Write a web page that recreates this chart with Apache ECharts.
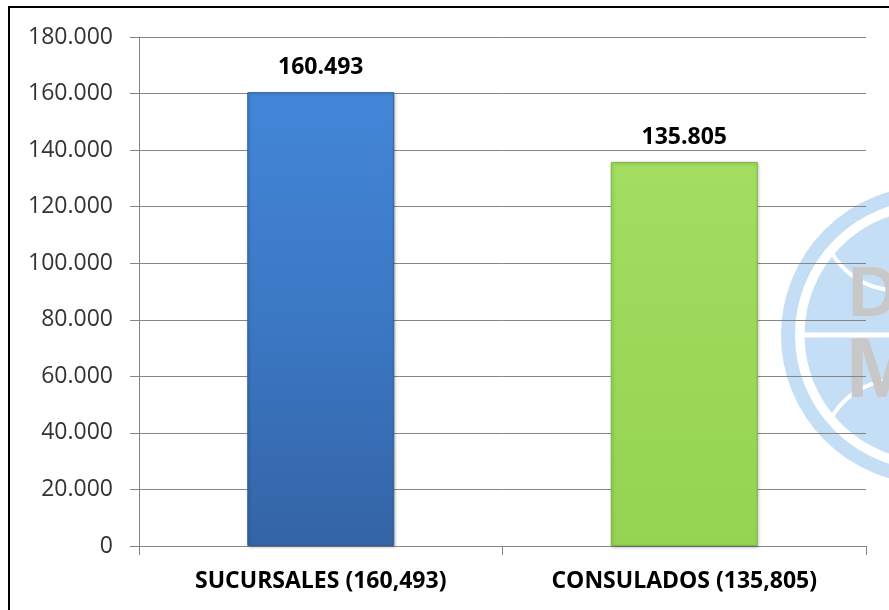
<!DOCTYPE html>
<html>
<head>
<meta charset="utf-8">
<script src="https://cdn.jsdelivr.net/npm/echarts@6/dist/echarts.min.js"></script>
<style>
html,body{margin:0;padding:0;background:#fff;}
#c{width:889px;height:610px;}
</style>
</head>
<body>
<div id="c"></div>
<script>
const categories = ['SUCURSALES (160,493)', 'CONSULADOS (135,805)'];
const values = [160493, 135805];
const yTicks = [0, 20000, 40000, 60000, 80000, 100000, 120000, 140000, 160000, 180000];

function fmt(v) {
  return String(v).replace(/\B(?=(\d{3})+(?!\d))/g, '.');
}

const barColors = [
  new echarts.graphic.LinearGradient(0, 0, 0, 1, [
    {offset: 0, color: '#4386d8'},
    {offset: 0.5, color: '#3b78c4'},
    {offset: 1, color: '#3464a6'}
  ]),
  new echarts.graphic.LinearGradient(0, 0, 0, 1, [
    {offset: 0, color: '#a2de60'},
    {offset: 1, color: '#95d352'}
  ])
];
const barBorders = ['#2f5d9c', '#7fb845'];

const chart = echarts.init(document.getElementById('c'), null, {renderer: 'canvas'});
chart.setOption({
  backgroundColor: '#ffffff',
  animation: false,
  graphic: [
    {
      type: 'group', z: -10, silent: true,
      children: [
        {type: 'circle', shape: {cx: 930, cy: 335, r: 142}, style: {fill: 'none', stroke: '#c4def6', lineWidth: 14}},
        {type: 'circle', shape: {cx: 930, cy: 335, r: 127}, style: {fill: '#c4def6', stroke: '#ffffff', lineWidth: 3}},
        {type: 'line', shape: {x1: 800, y1: 335, x2: 889, y2: 335}, style: {stroke: '#ffffff', lineWidth: 5}},
        {type: 'bezierCurve', shape: {x1: 830, y1: 250, x2: 889, y2: 290, cpx1: 850, cpy1: 285}, style: {stroke: '#ffffff', lineWidth: 4, fill: 'none'}},
        {type: 'bezierCurve', shape: {x1: 830, y1: 420, x2: 889, y2: 380, cpx1: 850, cpy1: 385}, style: {stroke: '#ffffff', lineWidth: 4, fill: 'none'}},
        {type: 'text', left: 848, top: 262, style: {text: 'D', fill: '#c8c8c8', font: 'bold 70px "Liberation Sans"'}},
        {type: 'text', left: 846, top: 330, style: {text: 'M', fill: '#c8c8c8', font: 'bold 86px "Liberation Sans"'}}
      ]
    },
    {
      type: 'rect', z: 100, silent: true,
      shape: {x: 9, y: 7, width: 900, height: 620},
      style: {fill: 'none', stroke: '#000000', lineWidth: 2}
    }
  ],
  grid: {left: 139, right: 23, top: 37, bottom: 64, containLabel: false},
  xAxis: {
    type: 'category',
    data: categories,
    axisLine: {lineStyle: {color: '#868686', width: 1}},
    axisTick: {show: true, length: 9, lineStyle: {color: '#868686'}},
    axisLabel: {
      margin: 24,
      color: '#000000',
      fontFamily: '"Open Sans"',
      fontWeight: 'bold',
      fontSize: 23
    },
    splitLine: {show: false}
  },
  yAxis: {
    type: 'value',
    min: 0, max: 180000, interval: 20000,
    axisLine: {show: true, lineStyle: {color: '#868686', width: 1}},
    axisTick: {show: true, length: 9, lineStyle: {color: '#868686'}},
    axisLabel: {
      margin: 26,
      color: '#333333',
      fontFamily: '"Open Sans"',
      fontSize: 23,
      formatter: function (v) { return yTicks.indexOf(v) >= 0 ? fmt(v) : ''; }
    },
    splitLine: {show: true, lineStyle: {color: '#868686', width: 1}}
  },
  series: [{
    type: 'bar',
    barWidth: 147,
    data: values.map(function (v, i) {
      return {value: v, itemStyle: {color: barColors[i], borderColor: barBorders[i], borderWidth: 1}};
    }),
    itemStyle: {shadowColor: 'rgba(0,0,0,0.25)', shadowBlur: 3, shadowOffsetX: 1, shadowOffsetY: 1},
    label: {
      show: true,
      position: 'top',
      distance: 13,
      color: '#000000',
      fontFamily: '"Open Sans"',
      fontWeight: 'bold',
      fontSize: 23,
      formatter: function (p) { return fmt(p.value); }
    }
  }]
});
</script>
</body>
</html>
